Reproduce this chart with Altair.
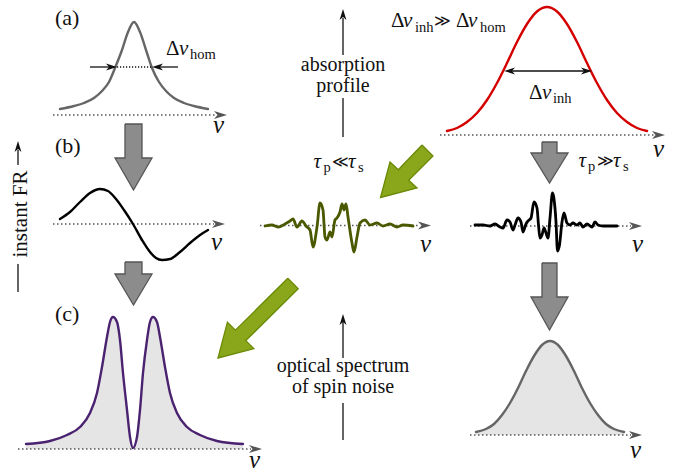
import altair as alt
import pandas as pd

# ---------------- data (pixel coordinates) ----------------
# (a) homogeneous (Lorentzian) line
A_X = [60, 74, 84, 94, 102, 109, 115, 122, 128, 134, 140, 146, 152, 159, 166, 174, 184, 194, 208]
A_Y = [109, 106, 103, 98, 91, 82, 68, 50, 32, 22, 32, 50, 68, 82, 91, 98, 103, 106, 109]
# (b) instant Faraday rotation (dispersion shape)
B_X = [60, 70, 80, 90, 100, 108, 116, 124, 133, 142, 150, 156, 162, 170, 180, 190, 200, 208]
B_Y = [219, 212, 202, 193, 189, 191, 199, 210, 224, 240, 252, 258, 260, 259, 252, 243, 235, 230]
# (c) spin-noise spectrum (double peak)
C_X = [26, 50, 67, 80, 90, 97, 102, 107, 110, 113, 117, 120, 123, 127, 130, 133, 137, 140, 143,
       147, 150, 153, 157, 160, 165, 170, 177, 187, 200, 217, 243]
C_Y = [444, 441, 435, 427, 413, 393, 367, 337, 322, 317, 322, 340, 373, 410, 437, 448, 437, 410, 373,
       340, 322, 317, 322, 337, 367, 393, 413, 427, 435, 441, 444]
# inhomogeneous (Gaussian) absorption profile, red
R_X = [447, 457, 467, 477, 487, 497, 507, 517, 527, 537, 547, 557, 567, 577, 587, 597, 607, 617, 627, 637, 647]
R_Y = [131, 128, 122, 113, 100, 83, 63, 42, 24, 11.5, 7, 11.5, 24, 42, 63, 83, 100, 113, 122, 128, 131]
# Gaussian noise spectrum (bottom right)
G_X = [476, 486, 494, 502, 510, 518, 526, 534, 542, 550, 558, 566, 574, 582, 590, 598, 606, 614, 624]
G_Y = [432, 429, 424, 415, 403, 388, 371, 356, 345, 341, 345, 356, 371, 388, 403, 415, 424, 429, 432]
# noise trace, tau_p << tau_s (olive)
N1_X = [265, 272, 278, 285, 290, 293, 297, 302, 306, 310, 313, 317, 320, 323, 325, 327, 330, 332, 335,
        337, 340, 342, 344, 346, 348, 352, 354, 357, 360, 365, 370, 377, 383, 390, 397, 403, 413]
N1_Y = [226, 225, 227, 224, 221, 219, 227, 221, 226, 230, 247, 227, 203, 210, 237, 240, 232, 237, 220,
        218, 212, 204, 210, 204, 217, 243, 252, 237, 223, 220, 225, 223, 226, 224, 227, 225, 226]
# noise trace, tau_p >> tau_s (black)
N2_X = [475, 483, 490, 495, 500, 503, 507, 510, 513, 515, 518, 521, 523, 526, 528, 531, 534, 537, 538.5,
        540, 542, 544, 546, 548, 550, 552.5, 554, 556, 557.5, 559.5, 562, 564, 567, 570, 573, 577,
        580, 583, 587, 592, 595, 598, 603, 610, 617]
N2_Y = [225, 225, 226, 224, 227, 228, 220, 222, 230, 225, 218, 222, 232, 224, 221, 218, 202, 208, 225,
        238, 235, 228, 233, 238, 218, 193, 199, 222, 251, 245, 222, 213, 223, 225, 223, 225,
        223, 227, 224, 227, 222, 225, 226, 226, 226]

# block arrows (gray, pointing down)
GRAY_ARROWS = {
    1: [(125, 124), (142, 124), (142, 158), (152, 158), (133.5, 190), (115, 158), (125, 158), (125, 124)],
    2: [(125, 262), (142, 262), (142, 274), (152, 274), (133.5, 305), (115, 274), (125, 274), (125, 262)],
    3: [(542, 142), (557, 142), (557, 153), (568, 153), (549.5, 183), (531, 153), (542, 153), (542, 142)],
    4: [(542, 263), (557, 263), (557, 297), (568, 297), (549.5, 330), (531, 297), (542, 297), (542, 263)],
}
# block arrows (green, pointing down-left)
GREEN_ARROWS = {
    1: [(422, 145), (433, 156), (408.7, 180.2), (417, 188), (380.5, 197.5), (390, 162), (398.3, 169.8), (422, 145)],
    2: [(287.8, 278.3), (298.2, 288.7), (245.8, 340.6), (253.8, 348.6), (218, 358), (227.4, 322.2),
        (235.4, 330.2), (287.8, 278.3)],
}

# dotted frequency axes: (x_start, x_end, y, arrow tip x)
BASELINES = [(53, 216, 115, 227), (53, 214, 224, 225), (260, 420, 225.5, 431),
             (470, 631, 226, 642), (440, 654, 135, 665), (18, 251, 449, 262), (470, 631, 435, 642)]

# solid black segments (x1, y1, x2, y2)
SEGMENTS = [(343, 137, 343, 98), (343, 55, 343, 18),
            (343, 440, 343, 403), (343, 358, 343, 322),
            (18, 292, 18, 264), (18, 165, 18, 150),
            (90, 67, 110, 67), (159, 67, 178, 67),
            (511, 71, 585, 71)]
DOTTED_SEG = [(117, 67, 152, 67)]
# black arrow heads: (tip x, tip y, direction)
BLACK_HEADS = [(343, 9, "up"), (343, 314, "up"), (18, 141, "up"),
               (117, 67, "right"), (152, 67, "left"), (504, 71, "left"), (592, 71, "right")]

# texts: (x, y, text, fontsize)
REG_LEFT = [(55, 25, "(a)", 22), (55, 153, "(b)", 22), (55, 321, "(c)", 22),
            (166, 55, "Δ", 21), (391, 27, "Δ", 21), (456, 27, "Δ", 21),
            (529, 99, "Δ", 21)]
REL_LEFT = [(434, 26, "≫", 16), (331.5, 167, "≪", 16), (597, 166, "≫", 16)]
ITAL_LEFT = [(179, 55, "ν", 21), (403, 27, "ν", 21), (468, 27, "ν", 21), (542, 99, "ν", 21),
             (313.5, 168, "τ", 21), (348, 168, "τ", 21), (578.5, 167, "τ", 21), (613, 167, "τ", 21),
             (213, 133, "ν", 25), (211, 250, "ν", 25), (420, 252, "ν", 25), (632, 252, "ν", 25),
             (653, 157, "ν", 25), (249, 468, "ν", 25), (630, 458, "ν", 25)]
SUB_LEFT = [(190, 59, "hom", 14.5), (415, 32, "inh", 14.5), (480, 32, "hom", 14.5), (553, 103, "inh", 14.5),
            (323.5, 172, "p", 14.5), (358, 172, "s", 14.5), (588, 171, "p", 14.5), (623, 171, "s", 14.5)]
REG_CENTER = [(343, 71, "absorption", 20), (343, 92, "profile", 20),
              (343, 372, "optical spectrum", 20), (343, 393, "of spin noise", 20)]
VERT_TEXT = [(21, 214, "instant FR", 21)]

# ---------------- chart ----------------
XS = alt.Scale(domain=[0, 678], nice=False, zero=False)
YS = alt.Scale(domain=[0, 474], reverse=True, nice=False, zero=False)
X = alt.X("x:Q", scale=XS, axis=None)
Y = alt.Y("y:Q", scale=YS, axis=None)
SERIF = "Liberation Serif"

layers = []


def curve(xs, ys, color, width, fill=None, base=None):
    df = pd.DataFrame({"x": xs, "y": ys})
    out = []
    if fill is not None:
        df["b"] = base
        out.append(alt.Chart(df).mark_area(color=fill, interpolate="monotone").encode(
            x=X, y=Y, y2=alt.Y2("b:Q")))
    out.append(alt.Chart(df).mark_line(color=color, strokeWidth=width, interpolate="monotone",
                                       strokeJoin="round", strokeCap="round").encode(x=X, y=Y))
    return out


def polygons(shapes, fill, stroke):
    rows = []
    for k, pts in shapes.items():
        for i, (px, py) in enumerate(pts):
            rows.append({"id": k, "i": i, "x": px, "y": py})
    df = pd.DataFrame(rows)
    return alt.Chart(df).mark_line(fill=fill, stroke=stroke, strokeWidth=1.3, strokeJoin="miter").encode(
        x=X, y=Y, order="i:Q", detail="id:N")


HEAD_SHAPE = "M1,0L-1,-0.62L-0.45,0L-1,0.62Z"


def heads(items, color, length):
    rows = []
    for tx, ty, d in items:
        h = length / 2
        if d == "right":
            rows.append({"x": tx - h, "y": ty, "a": 0})
        elif d == "left":
            rows.append({"x": tx + h, "y": ty, "a": 180})
        elif d == "up":
            rows.append({"x": tx, "y": ty + h, "a": 270})
        else:
            rows.append({"x": tx, "y": ty - h, "a": 90})
    df = pd.DataFrame(rows)
    df["s"] = length * length
    return alt.Chart(df).mark_point(shape=HEAD_SHAPE, filled=True, color=color, opacity=1,
                                    strokeWidth=0).encode(
        x=X, y=Y, angle=alt.Angle("a:Q", scale=None), size=alt.Size("s:Q", scale=None))


def segs(items, color, width, dash=None):
    df = pd.DataFrame(items, columns=["x", "y", "x2", "y2"])
    kw = dict(color=color, strokeWidth=width)
    if dash is not None:
        kw["strokeDash"] = dash
    return alt.Chart(df).mark_rule(**kw).encode(x=X, y=Y, x2="x2:Q", y2="y2:Q")


def texts(items, align, italic=False, angle=None, baseline="alphabetic", font=SERIF):
    df = pd.DataFrame(items, columns=["x", "y", "t", "fs"])
    kw = dict(font=font, align=align, baseline=baseline, color="#111111")
    if italic:
        kw["fontStyle"] = "italic"
    if angle is not None:
        kw["angle"] = angle
    return alt.Chart(df).mark_text(**kw).encode(
        x=X, y=Y, text="t:N", size=alt.Size("fs:Q", scale=None))


# filled areas first
layers += curve(C_X, C_Y, "#4a2270", 2.4, fill="#e5e5e5", base=449)
layers += curve(G_X, G_Y, "#666666", 2.4, fill="#e5e5e5", base=435)

# dotted axes
layers.append(segs([(a, y, b, y) for a, b, y, t in BASELINES], "#555555", 1.5, dash=[1.5, 2.5]))
layers.append(heads([(t, y, "right") for a, b, y, t in BASELINES], "#555555", 13))

# curves
layers += curve(A_X, A_Y, "#666666", 2.4)
layers += curve(B_X, B_Y, "#000000", 2.4)
layers += curve(R_X, R_Y, "#d40000", 2.4)
layers += curve(N1_X, N1_Y, "#4b5800", 2.8)
layers += curve(N2_X, N2_Y, "#000000", 2.8)

# block arrows
layers.append(polygons(GRAY_ARROWS, "#8c8c8c", "#555555"))
layers.append(polygons(GREEN_ARROWS, "#8aa71b", "#6a8a05"))

# thin arrows
layers.append(segs(SEGMENTS, "#111111", 1.3))
layers.append(segs(DOTTED_SEG, "#111111", 1.3, dash=[1.2, 1.8]))
layers.append(heads(BLACK_HEADS, "#111111", 11))

# texts
layers.append(texts(REG_LEFT, "left"))
layers.append(texts(REL_LEFT, "left", font="DejaVu Serif"))
layers.append(texts(ITAL_LEFT, "left", italic=True))
layers.append(texts(SUB_LEFT, "left"))
layers.append(texts(REG_CENTER, "center"))
layers.append(texts(VERT_TEXT, "center", angle=270, baseline="middle"))

chart = alt.layer(*layers).properties(
    width=678, height=474, padding=0, autosize=alt.AutoSizeParams(type="none"),
    background="white"
).configure_view(strokeWidth=0)

chart.save("out.html", embed_options={"renderer": "svg", "actions": False})
